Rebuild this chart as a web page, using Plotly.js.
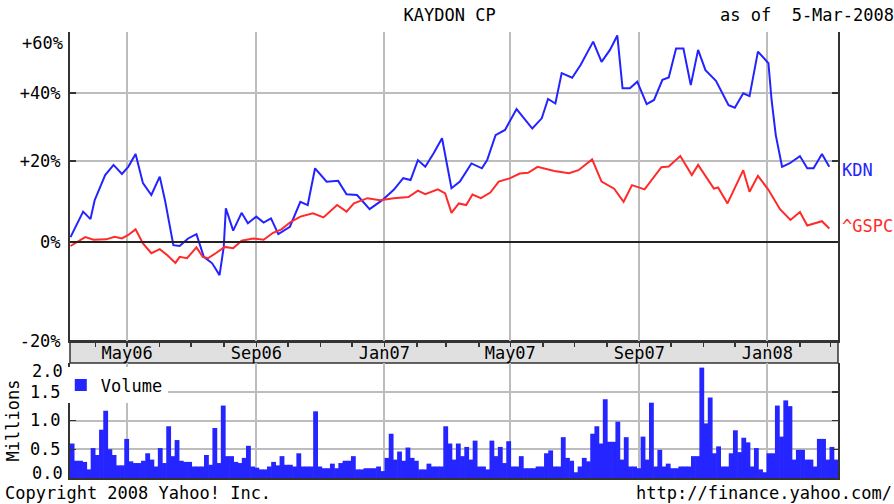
<!DOCTYPE html>
<html><head><meta charset="utf-8">
<script src="https://cdn.plot.ly/plotly-3.0.1.min.js"></script>
<style>html,body{margin:0;padding:0;background:#fff}#chart{width:894px;height:504px}</style>
</head><body><div id="chart"></div>
<script>
// ---- data (percent change vs. start) ----
const kdnDates = ['2006-03-08','2006-03-20','2006-03-27','2006-03-31','2006-04-10','2006-04-18','2006-04-26','2006-05-02','2006-05-09','2006-05-16','2006-05-24','2006-06-01','2006-06-06','2006-06-14','2006-06-20','2006-06-28','2006-07-06','2006-07-13','2006-07-21','2006-07-28','2006-08-01','2006-08-03','2006-08-10','2006-08-18','2006-08-24','2006-09-01','2006-09-08','2006-09-15','2006-09-22','2006-10-03','2006-10-13','2006-10-20','2006-10-27','2006-11-07','2006-11-18','2006-11-26','2006-12-06','2006-12-18','2006-12-30','2007-01-10','2007-01-19','2007-01-26','2007-02-02','2007-02-09','2007-02-17','2007-02-25','2007-03-06','2007-03-14','2007-03-25','2007-04-04','2007-04-09','2007-04-17','2007-04-26','2007-05-07','2007-05-22','2007-05-31','2007-06-06','2007-06-13','2007-06-19','2007-06-29','2007-07-07','2007-07-19','2007-07-27','2007-08-04','2007-08-11','2007-08-16','2007-08-23','2007-08-30','2007-09-08','2007-09-15','2007-09-23','2007-09-29','2007-10-06','2007-10-13','2007-10-20','2007-10-27','2007-11-03','2007-11-13','2007-11-25','2007-12-01','2007-12-09','2007-12-15','2007-12-23','2008-01-02','2008-01-05','2008-01-09','2008-01-15','2008-01-22','2008-02-01','2008-02-08','2008-02-14','2008-02-22','2008-02-29'];
const kdnPct = [1.1,7.1,5.3,9.9,16.3,19.0,16.6,18.5,22.0,14.2,11.2,15.9,9.9,-0.7,-0.9,0.8,1.8,-3.3,-4.7,-7.2,-1.1,7.9,2.6,6.8,4.3,5.9,4.5,5.5,1.8,3.5,9.5,8.7,18.1,14.6,14.8,11.4,11.2,7.7,9.9,12.5,15.5,15.0,20.3,18.5,22.2,26.4,12.9,14.6,19.4,18.1,20.3,27.3,28.8,35.0,29.2,32.2,38.1,36.7,46.4,44.9,49.1,57.2,50.2,54.3,59.4,41.5,41.5,43.6,36.5,37.8,44.2,45.0,54.8,54.8,42.5,54.3,47.4,43.9,36.2,35.4,39.9,39.0,53.7,49.7,37.8,27.3,18.5,19.4,21.4,18.1,18.1,22.0,18.5];

const gspcDates = ['2006-03-08','2006-03-22','2006-03-30','2006-04-11','2006-04-19','2006-04-26','2006-05-02','2006-05-09','2006-05-16','2006-05-24','2006-06-01','2006-06-08','2006-06-16','2006-06-20','2006-06-27','2006-07-06','2006-07-12','2006-07-17','2006-07-25','2006-08-02','2006-08-10','2006-08-18','2006-08-29','2006-09-08','2006-09-17','2006-09-25','2006-10-03','2006-10-13','2006-10-25','2006-11-04','2006-11-17','2006-11-26','2006-12-03','2006-12-16','2006-12-28','2007-01-10','2007-01-24','2007-02-02','2007-02-09','2007-02-21','2007-02-28','2007-03-06','2007-03-13','2007-03-20','2007-03-26','2007-04-03','2007-04-12','2007-04-20','2007-05-01','2007-05-10','2007-05-18','2007-05-27','2007-06-12','2007-06-26','2007-07-05','2007-07-18','2007-07-27','2007-08-08','2007-08-17','2007-08-25','2007-09-06','2007-09-22','2007-09-29','2007-10-10','2007-10-21','2007-10-27','2007-11-11','2007-11-15','2007-11-24','2007-12-09','2007-12-15','2007-12-23','2008-01-02','2008-01-13','2008-01-23','2008-02-01','2008-02-08','2008-02-22','2008-02-29'];
const gspcPct = [-0.9,1.1,0.5,0.6,1.2,0.8,1.6,2.9,-0.3,-2.5,-1.6,-2.9,-4.6,-3.3,-3.6,-1.2,-3.3,-3.6,-2.4,-1.1,-1.4,0.3,0.8,0.5,2.1,2.9,4.5,5.9,6.7,5.7,8.7,7.1,9.1,10.4,9.9,10.4,10.7,12.3,11.4,12.6,11.6,6.8,9.1,8.7,11.3,10.4,11.8,14.6,15.5,16.7,16.9,18.5,17.4,16.8,17.6,20.5,14.6,12.8,9.5,13.7,12.6,18.4,18.6,21.4,16.3,19.0,12.8,13.1,9.1,17.6,12.0,16.1,12.5,7.7,5.1,7.0,3.8,4.8,3.1];

// volume in millions of shares, one reading every 4 calendar days from volumeStart
const volumeStart = '2006-03-09T12:00:00';
const volumeStepDays = 4;
const volumeMillions = [0.6,0.3,0.3,0.28,0.15,0.52,0.4,0.84,1.17,0.5,0.4,0.22,0.22,0.68,0.29,0.26,0.26,0.3,0.43,0.32,0.2,0.52,0.26,0.9,0.38,0.66,0.3,0.28,0.28,0.2,0.2,0.2,0.4,0.23,0.87,0.26,1.26,0.38,0.38,0.28,0.26,0.35,0.56,0.2,0.18,0.15,0.15,0.2,0.28,0.22,0.38,0.23,0.23,0.2,0.43,0.2,0.2,0.2,1.16,0.2,0.17,0.17,0.25,0.17,0.26,0.3,0.3,0.38,0.15,0.15,0.17,0.17,0.17,0.2,0.12,0.35,0.77,0.32,0.46,0.3,0.53,0.35,0.3,0.15,0.15,0.25,0.2,0.2,0.2,0.9,0.6,0.32,0.6,0.38,0.54,0.32,0.65,0.2,0.2,0.15,0.65,0.38,0.54,0.26,0.64,0.2,0.2,0.38,0.17,0.17,0.17,0.2,0.2,0.43,0.48,0.2,0.2,0.71,0.35,0.3,0.1,0.2,0.35,0.29,0.77,0.9,0.6,1.37,0.63,0.63,0.98,0.32,0.71,0.2,0.2,0.17,0.72,0.32,1.31,0.2,0.49,0.2,0.25,0.17,0.17,0.2,0.2,0.2,0.38,0.38,1.92,0.95,1.4,0.43,0.55,0.2,0.2,0.43,0.83,0.45,0.7,0.62,0.2,0.52,0.15,0.1,0.43,0.43,1.26,0.72,1.35,1.25,0.32,0.49,0.49,0.32,0.32,0.2,0.68,0.68,0.32,0.54,0.32];

const pctTicks = [-20, 0, 20, 40];
const pctTickText = ['-20%', '0%', '+20%', '+40%'];
const pctTopLabel = 60;
const volTicks = [0.5, 1.0, 1.5];
const volTickText = ['0.5', '1.0', '1.5'];
const chartTitle = 'KAYDON CP';
const asOfText = 'as of\u00a0\u00a05-Mar-2008';

// ---- styling ----
const FONT = 'DejaVu Sans Mono, monospace';
const FS = 17;
const BLUE = '#2323ff', RED = '#ff2b2b', VOLC = '#2525ff';
const GRID = '#bdbdbd', AX = '#333333';
const xRange = ['2006-03-07 12:00', '2008-03-08 07:00'];
const mainDomain = [0.3075, 1];
const volDomain = [0, 0.2578];

const idx = p => 100 + p;
const volDates = volumeMillions.map((_, i) =>
  new Date(Date.parse(volumeStart + 'Z') + i * volumeStepDays * 864e5).toISOString().slice(0, 19));

const traces = [
  {type: 'scatter', mode: 'lines', name: 'KDN', x: kdnDates, y: kdnPct.map(idx),
   xaxis: 'x', yaxis: 'y', line: {color: BLUE, width: 2}, showlegend: false},
  {type: 'scatter', mode: 'lines', name: '^GSPC', x: gspcDates, y: gspcPct.map(idx),
   xaxis: 'x', yaxis: 'y', line: {color: RED, width: 2}, showlegend: false},
  {type: 'bar', name: 'Volume', x: volDates, y: volumeMillions, xaxis: 'x2', yaxis: 'y2',
   width: volumeStepDays * 864e5 * 1.15, marker: {color: VOLC, line: {width: 0}}, showlegend: true}
];

const dateBase = {type: 'date', range: xRange, tick0: '2006-01-01', dtick: 'M4', fixedrange: true};
const lastK = kdnPct[kdnPct.length - 1], lastG = gspcPct[gspcPct.length - 1];
const txt = (c) => ({family: FONT, size: FS, color: c || '#000'});

const layout = {
  width: 894, height: 504,
  margin: {l: 70, r: 56, t: 32, b: 26},
  paper_bgcolor: '#fff', plot_bgcolor: '#fff',
  font: txt(),
  title: {text: chartTitle, x: 0.503, xref: 'container', xanchor: 'center', y: 0.97, yref: 'container', yanchor: 'middle', font: txt()},
  showlegend: true,
  legend: {x: -0.012, xanchor: 'left', y: 0.248, yanchor: 'top', bgcolor: '#fff', borderwidth: 0, font: txt()},
  hovermode: false,
  xaxis: Object.assign({}, dateBase, {
    domain: [0, 1], anchor: 'y', tickformat: '%b%y', ticks: 'outside', ticklen: 4, tickwidth: 1.5, tickcolor: AX,
    showgrid: true, gridcolor: GRID, gridwidth: 2, showline: true, linecolor: AX, linewidth: 2,
    minor: {dtick: 'M1', tick0: '2006-01-01', ticks: 'outside', ticklen: 4, tickwidth: 1.5, tickcolor: AX, showgrid: false},
    tickfont: txt(), ticklabelstandoff: -8
  }),
  xaxis3: Object.assign({}, dateBase, {
    overlaying: 'x', anchor: 'y', side: 'top', ticks: 'inside', ticklen: 6, tickwidth: 1.5, tickcolor: AX,
    showticklabels: false, showgrid: false, showline: true, linecolor: AX, linewidth: 2,
    minor: {dtick: 'M1', tick0: '2006-01-01', ticks: 'inside', ticklen: 4, tickwidth: 1.5, tickcolor: AX, showgrid: false}
  }),
  xaxis2: Object.assign({}, dateBase, {
    domain: [0, 1], anchor: 'y2', showticklabels: false, ticks: '',
    showgrid: true, gridcolor: GRID, gridwidth: 2, showline: true, linecolor: AX, linewidth: 2
  }),
  xaxis4: Object.assign({}, dateBase, {
    overlaying: 'x2', anchor: 'y2', side: 'top', ticks: 'inside', ticklen: 7, tickwidth: 1.5, tickcolor: AX,
    showticklabels: false, showgrid: false, showline: true, linecolor: AX, linewidth: 2,
    minor: {dtick: 'M1', tick0: '2006-01-01', ticks: 'inside', ticklen: 4, tickwidth: 1.5, tickcolor: AX, showgrid: false}
  }),
  yaxis: {
    type: 'log', domain: mainDomain, anchor: 'x', fixedrange: true,
    range: [Math.log10(80), Math.log10(160.65)],
    tickvals: pctTicks.map(idx), ticktext: pctTickText,
    ticks: 'inside', ticklen: 6, tickwidth: 1.5, tickcolor: AX, mirror: 'allticks',
    showline: true, linecolor: AX, linewidth: 2, showgrid: true, gridcolor: GRID, gridwidth: 2,
    tickfont: txt(), ticklabelstandoff: 4
  },
  yaxis2: {
    domain: volDomain, anchor: 'x2', range: [0, 2], fixedrange: true,
    tickvals: volTicks, ticktext: volTickText,
    ticks: 'inside', ticklen: 6, tickwidth: 1.5, tickcolor: AX, mirror: 'allticks',
    showline: true, linecolor: AX, linewidth: 2, showgrid: true, gridcolor: GRID, gridwidth: 2,
    tickfont: txt(), ticklabelstandoff: 4,
    title: {text: 'Millions', font: txt(), standoff: 6}
  },
  shapes: [
    {type: 'rect', xref: 'paper', yref: 'paper', x0: 0, x1: 1, y0: volDomain[1], y1: mainDomain[0],
     fillcolor: '#e0e0e0', line: {color: AX, width: 1.5}, layer: 'below'},
    {type: 'line', xref: 'paper', x0: 0, x1: 1, yref: 'y', y0: 100, y1: 100, line: {color: '#222', width: 2}}
  ],
  annotations: [
    {text: '+' + pctTopLabel + '%', xref: 'paper', x: 0, xanchor: 'right', xshift: -5, yref: 'y', y: Math.log10(idx(pctTopLabel)), yanchor: 'middle', yshift: -9, showarrow: false, font: txt()},
    {text: '2.0', xref: 'paper', x: 0, xanchor: 'right', xshift: -5, yref: 'y2', y: 2, yanchor: 'middle', yshift: -8, showarrow: false, font: txt()},
    {text: '0.0', xref: 'paper', x: 0, xanchor: 'right', xshift: -5, yref: 'y2', y: 0, yanchor: 'middle', yshift: 5, showarrow: false, font: txt()},
    {text: 'KDN', xref: 'paper', x: 1, xanchor: 'left', xshift: 2, yref: 'y', y: Math.log10(idx(lastK)), yanchor: 'middle', yshift: -3, showarrow: false, font: txt(BLUE)},
    {text: '^GSPC', xref: 'paper', x: 1, xanchor: 'left', xshift: 2, yref: 'y', y: Math.log10(idx(lastG)), yanchor: 'middle', yshift: 2, showarrow: false, font: txt(RED)},
    {text: asOfText, xref: 'paper', x: (718 - 70) / 768, xanchor: 'left', yref: 'paper', y: (478 - 15) / 446, yanchor: 'middle', showarrow: false, font: txt()},
    {text: 'Copyright 2008 Yahoo! Inc.', xref: 'paper', x: (3 - 70) / 768, xanchor: 'left', yref: 'paper', y: (478 - 493) / 446, yanchor: 'middle', showarrow: false, font: txt()},
    {text: 'http://finance.yahoo.com/', xref: 'paper', x: (634 - 70) / 768, xanchor: 'left', yref: 'paper', y: (478 - 493) / 446, yanchor: 'middle', showarrow: false, font: txt()}
  ]
};

Plotly.newPlot('chart', traces, layout, {staticPlot: true, displayModeBar: false});
</script></body></html>
